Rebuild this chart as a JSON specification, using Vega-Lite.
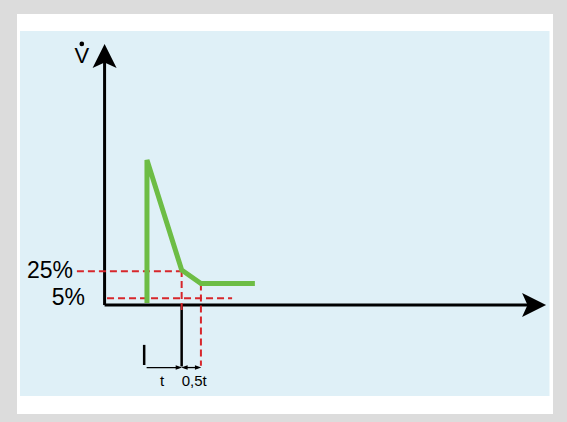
{
  "$schema": "https://vega.github.io/schema/vega-lite/v6.json",
  "width": 567,
  "height": 422,
  "autosize": {"type": "fit", "contains": "padding"},
  "padding": {"left": 17, "top": 14, "right": 14, "bottom": 8},
  "background": "#dcdcdc",
  "config": {"view": {"fill": "#ffffff", "stroke": null}, "text": {"font": "Liberation Sans"}},
  "datasets": {
    "panel": [{"x": -2.415, "x2": 12.7, "y": -67.4, "y2": 203}],
    "axes": [
      {"x": 0, "y": 0, "x2": 0, "y2": 184},
      {"x": 0, "y": 0, "x2": 12.1, "y2": 0}
    ],
    "marker": [
      {"x": 2.2, "y": 0, "x2": 2.2, "y2": -45.5},
      {"x": 1.13, "y": -29.5, "x2": 1.13, "y2": -44.4}
    ],
    "spans": [
      {"x": 1.2, "y": -46.3, "x2": 2.12, "y2": -46.3},
      {"x": 2.28, "y": -46.3, "x2": 2.67, "y2": -46.3}
    ],
    "dashed": [
      {"x": -0.79, "y": 25, "x2": 2.2, "y2": 25},
      {"x": 0.07, "y": 5, "x2": 3.64, "y2": 5},
      {"x": 2.2, "y": 26, "x2": 2.2, "y2": -5},
      {"x": 2.75, "y": 16, "x2": 2.75, "y2": -45}
    ],
    "flow": [
      {"step": 1, "x": 1.21, "y": 1.5},
      {"step": 2, "x": 1.21, "y": 107.4},
      {"step": 3, "x": 2.2, "y": 26},
      {"step": 4, "x": 2.75, "y": 16},
      {"step": 5, "x": 4.29, "y": 16}
    ],
    "headUp": [{"x": 0, "y": 184.5}],
    "headRight": [{"x": 12.26, "y": 0}],
    "smallRight": [{"x": 2.12, "y": -46.3}, {"x": 2.67, "y": -46.3}],
    "smallLeft": [{"x": 2.28, "y": -46.3}],
    "dot": [{"x": -0.65, "y": 193.4}],
    "pctLabels": [{"x": -0.9, "y": 25, "label": "25%"}, {"x": -0.56, "y": 5, "label": "5%"}],
    "vLabel": [{"x": -0.65, "y": 179, "label": "V"}],
    "tLabels": [{"x": 1.64, "y": -56.6, "label": "t"}, {"x": 2.56, "y": -56.6, "label": "0,5t"}]
  },
  "encoding": {
    "x": {"field": "x", "type": "quantitative", "scale": {"domain": [-2.5, 12.8], "nice": false, "zero": false}, "axis": null},
    "y": {"field": "y", "type": "quantitative", "scale": {"domain": [-80.7, 215.6], "nice": false, "zero": false}, "axis": null}
  },
  "layer": [
    {"data": {"name": "panel"}, "mark": {"type": "rect", "color": "#dff0f7"},
     "encoding": {"x2": {"field": "x2"}, "y2": {"field": "y2"}}},
    {"data": {"name": "axes"}, "mark": {"type": "rule", "color": "#000000", "strokeWidth": 3},
     "encoding": {"x2": {"field": "x2"}, "y2": {"field": "y2"}}},
    {"data": {"name": "marker"}, "mark": {"type": "rule", "color": "#000000", "strokeWidth": 2.5},
     "encoding": {"x2": {"field": "x2"}, "y2": {"field": "y2"}}},
    {"data": {"name": "spans"}, "mark": {"type": "rule", "color": "#000000", "strokeWidth": 1.3},
     "encoding": {"x2": {"field": "x2"}, "y2": {"field": "y2"}}},
    {"data": {"name": "dashed"}, "mark": {"type": "rule", "color": "#d7262b", "strokeWidth": 2, "strokeDash": [7, 4]},
     "encoding": {"x2": {"field": "x2"}, "y2": {"field": "y2"}}},
    {"data": {"name": "flow"}, "mark": {"type": "line", "color": "#6dbd45", "strokeWidth": 5, "strokeJoin": "miter"},
     "encoding": {"order": {"field": "step", "type": "quantitative"}}},
    {"data": {"name": "headUp"}, "mark": {"type": "point", "filled": true, "color": "#000000", "opacity": 1, "size": 576, "shape": "M0,-1 L1,1 L0,0.55 L-1,1 Z"}},
    {"data": {"name": "headRight"}, "mark": {"type": "point", "filled": true, "color": "#000000", "opacity": 1, "size": 576, "shape": "M1,0 L-1,-1 L-0.55,0 L-1,1 Z"}},
    {"data": {"name": "smallRight"}, "mark": {"type": "point", "filled": true, "color": "#000000", "opacity": 1, "size": 40, "shape": "M1,0 L-1,-0.7 L-1,0.7 Z"}},
    {"data": {"name": "smallLeft"}, "mark": {"type": "point", "filled": true, "color": "#000000", "opacity": 1, "size": 40, "shape": "M-1,0 L1,-0.7 L1,0.7 Z"}},
    {"data": {"name": "dot"}, "mark": {"type": "point", "filled": true, "color": "#000000", "opacity": 1, "size": 22, "shape": "circle"}},
    {"data": {"name": "pctLabels"}, "mark": {"type": "text", "align": "right", "baseline": "middle", "fontSize": 23, "color": "#000000"},
     "encoding": {"text": {"field": "label"}}},
    {"data": {"name": "vLabel"}, "mark": {"type": "text", "align": "center", "baseline": "alphabetic", "fontSize": 22, "color": "#000000"},
     "encoding": {"text": {"field": "label"}}},
    {"data": {"name": "tLabels"}, "mark": {"type": "text", "align": "center", "baseline": "middle", "fontSize": 15, "color": "#000000"},
     "encoding": {"text": {"field": "label"}}}
  ]
}
